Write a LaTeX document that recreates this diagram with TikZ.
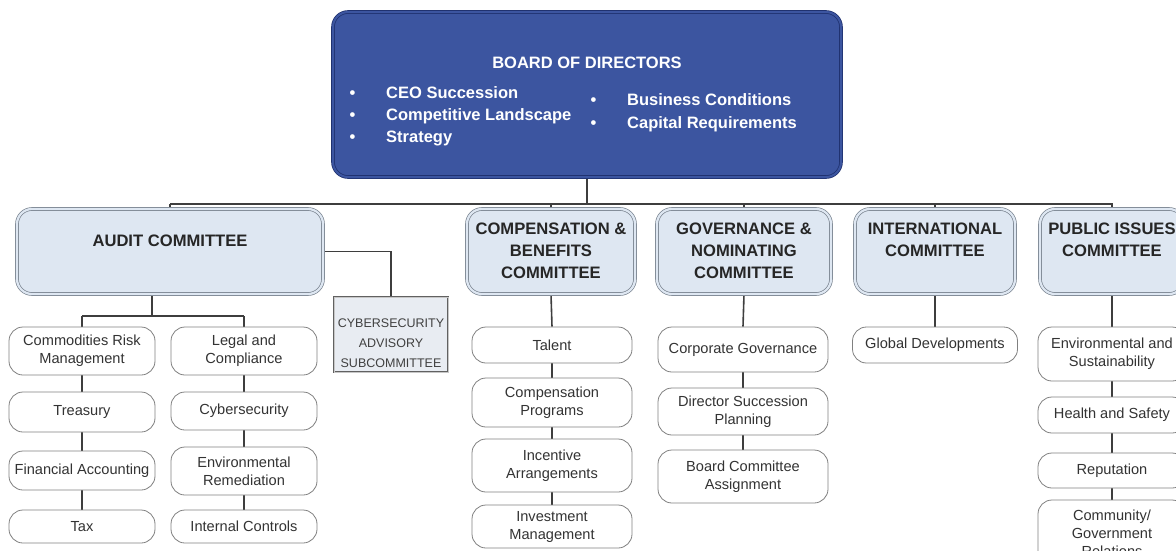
\documentclass[tikz,border=0pt]{standalone}
\usepackage{fontspec}
\setmainfont{Liberation Sans}
\usetikzlibrary{backgrounds}
\definecolor{boardfill}{RGB}{60,85,160}
\definecolor{boarddraw}{RGB}{32,50,112}
\definecolor{comfill}{RGB}{222,231,242}
\definecolor{comdraw}{RGB}{120,130,142}
\definecolor{subdraw}{RGB}{128,128,128}
\definecolor{linec}{RGB}{62,62,62}
\definecolor{cyfill}{RGB}{232,236,242}
\tikzset{
  sz/.style n args={2}{minimum width=#1pt, minimum height=#2pt},
  boardbox/.style={rounded corners=15pt, fill=boardfill, draw=boarddraw, double=boardfill, double distance=2pt, line width=0.8pt, inner sep=0pt},
  boardtext/.style={font=\bfseries\fontsize{16.5}{22}\selectfont, text=white, inner sep=0pt},
  committee/.style={rounded corners=15pt, fill=comfill, draw=comdraw, double=comfill, double distance=2.2pt, line width=0.7pt, inner sep=0pt},
  comtitle/.style={font=\bfseries\fontsize{16.6}{22}\selectfont, text=black!85, align=center, inner sep=0pt},
  subbox/.style={rounded corners=14pt, fill=white, draw=subdraw, line width=0.8pt, inner sep=0pt, align=center, font=\fontsize{14.6}{18}\selectfont, text=black!80},
  cybox/.style={fill=cyfill, draw=black!62, double=black!22, double distance=0.8pt, line width=0.6pt, inner sep=0pt},
  cytext/.style={font=\fontsize{12.5}{20}\selectfont, text=black!75, align=center, inner sep=0pt},
  conn/.style={draw=linec, line width=1.6pt},
}
\begin{document}
\begin{tikzpicture}[x=1pt,y=-1pt]
\useasboundingbox (0,0) rectangle (1176,550);
\clip (0,0) rectangle (1176,550);

% Board
\node[boardbox, sz={508}{165}] (board) at (587,94.5) {};
\node[boardtext] (boardT) at (587,63) {BOARD OF DIRECTORS};
\node[boardtext, anchor=west, align=left] (boardL) at (349.5,116)
  {\makebox[36.5pt][l]{•}CEO Succession\\\makebox[36.5pt][l]{•}Competitive Landscape\\\makebox[36.5pt][l]{•}Strategy};
\node[boardtext, anchor=west, align=left] (boardR) at (590.5,112.5)
  {\makebox[36.5pt][l]{•}Business Conditions\\[1pt]\makebox[36.5pt][l]{•}Capital Requirements};

% Committees
\node[committee, sz={306}{85}] (audit) at (170,251.5) {};
\node[committee, sz={168}{85}] (comp) at (551,251.5) {};
\node[committee, sz={174}{85}] (gov) at (744,251.5) {};
\node[committee, sz={160}{85}] (intl) at (935,251.5) {};
\node[committee, sz={144}{85}] (pub) at (1112,251.5) {};
\node[comtitle] (auditT) at (170,241) {AUDIT COMMITTEE};
\node[comtitle] (compT) at (551,251) {COMPENSATION \&\\BENEFITS\\COMMITTEE};
\node[comtitle] (govT) at (744,251) {GOVERNANCE \&\\NOMINATING\\COMMITTEE};
\node[comtitle] (intlT) at (935,240) {INTERNATIONAL\\COMMITTEE};
\node[comtitle] (pubT) at (1112,240) {PUBLIC ISSUES\\COMMITTEE};

% Cybersecurity subcommittee
\node[cybox, sz={114}{75}] (cyber) at (391,334.5) {};
\node[cytext] (cyberT) at (391,343) {CYBERSECURITY\\ADVISORY\\SUBCOMMITTEE};

% Audit sub-boxes
\node[subbox, sz={146}{48}] (comm) at (82,351) {Commodities Risk\\Management};
\node[subbox, sz={146}{40}] (treas) at (82,412) {Treasury};
\node[subbox, sz={146}{39}] (fin) at (82,470.5) {Financial Accounting};
\node[subbox, sz={146}{33}] (tax) at (82,526.5) {Tax};
\node[subbox, sz={146}{48}] (legal) at (244,351) {Legal and\\Compliance};
\node[subbox, sz={146}{38}] (cybs) at (244,411) {Cybersecurity};
\node[subbox, sz={146}{48}] (envr) at (244,471) {Environmental\\Remediation};
\node[subbox, sz={146}{33}] (intc) at (244,526.5) {Internal Controls};

% Compensation sub-boxes
\node[subbox, sz={160}{36}] (talent) at (552,345) {Talent};
\node[subbox, sz={160}{49}] (cprog) at (552,402.5) {Compensation\\Programs};
\node[subbox, sz={160}{53}] (incent) at (552,465.5) {Incentive\\Arrangements};
\node[subbox, sz={160}{43}] (invest) at (552,526.5) {Investment\\Management};

% Governance sub-boxes
\node[subbox, sz={170}{45}] (corpg) at (743,349.5) {Corporate Governance};
\node[subbox, sz={170}{47}] (dsp) at (743,411.5) {Director Succession\\Planning};
\node[subbox, sz={170}{53}] (bca) at (743,476.5) {Board Committee\\Assignment};

% International sub-box
\node[subbox, sz={165}{36}] (glob) at (935,345) {Global Developments};

% Public issues sub-boxes
\node[subbox, sz={148}{54}] (envs) at (1112,354) {Environmental and\\Sustainability};
\node[subbox, sz={148}{36}] (health) at (1112,415) {Health and Safety};
\node[subbox, sz={148}{35}] (rep) at (1112,470.5) {Reputation};
\node[subbox, sz={148}{66}] (cgr) at (1112,533) {Community/\\Government\\Relations};

% Connectors
\coordinate (busL) at (170,204);
\coordinate (busR) at (1113,204);
\coordinate (aj) at (152,316);
\begin{scope}[on background layer]
\draw[conn] (busL) -- (busR);
\draw[conn] (board.south) -- (board.south |- busL);
\foreach \n in {audit,comp,gov,intl,pub} \draw[conn] (\n.north) -- (\n.north |- busL);
\draw[conn] (aj |- audit.south) -- (aj);
\draw[conn] (comm.north |- aj) -- (legal.north |- aj);
\draw[conn] (comm.north |- aj) -- (comm.north);
\draw[conn] (legal.north |- aj) -- (legal.north);
\draw[conn] (audit.east) -| (cyber.north);
\draw[conn] (comm.south) -- (treas.north);
\draw[conn] (treas.south) -- (fin.north);
\draw[conn] (fin.south) -- (tax.north);
\draw[conn] (legal.south) -- (cybs.north);
\draw[conn] (cybs.south) -- (envr.north);
\draw[conn] (envr.south) -- (intc.north);
\draw[conn] (comp.south) -- (talent.north);
\draw[conn] (talent.south) -- (cprog.north);
\draw[conn] (cprog.south) -- (incent.north);
\draw[conn] (incent.south) -- (invest.north);
\draw[conn] (gov.south) -- (corpg.north);
\draw[conn] (corpg.south) -- (dsp.north);
\draw[conn] (dsp.south) -- (bca.north);
\draw[conn] (intl.south) -- (glob.north);
\draw[conn] (pub.south) -- (envs.north);
\draw[conn] (envs.south) -- (health.north);
\draw[conn] (health.south) -- (rep.north);
\draw[conn] (rep.south) -- (cgr.north);
\end{scope}
\end{tikzpicture}
\end{document}
